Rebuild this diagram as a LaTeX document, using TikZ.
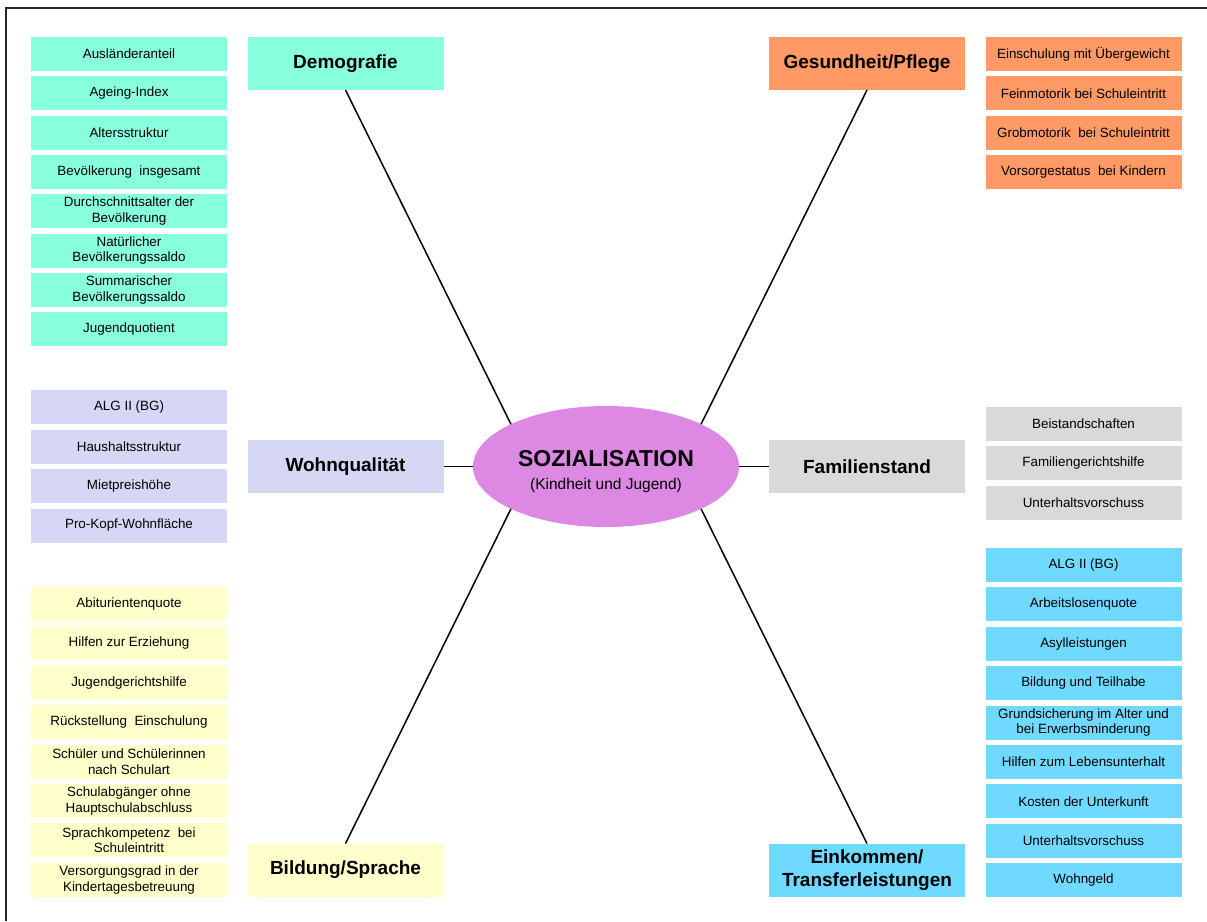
\documentclass[tikz,border=0pt]{standalone}
\usepackage{fontspec}
\setmainfont{Liberation Sans}
\usetikzlibrary{shapes.geometric}
\definecolor{cdemo}{HTML}{88FFDD}
\definecolor{cges}{HTML}{FF9966}
\definecolor{cwohn}{HTML}{D6D6F5}
\definecolor{cfam}{HTML}{D9D9D9}
\definecolor{cein}{HTML}{70D9FF}
\definecolor{cbil}{HTML}{FFFFCC}
\definecolor{cell}{HTML}{DD88E3}
\tikzset{
  item/.style={rectangle, minimum width=196pt, minimum height=34pt, inner sep=1pt, outer sep=0pt, align=center,
    font=\fontsize{13.4}{15.5}\selectfont},
  head/.style={rectangle, minimum width=196pt, minimum height=53pt, inner sep=1pt, outer sep=0pt, align=center,
    font=\fontsize{19}{23}\selectfont\bfseries},
  conn/.style={line width=1.5pt, black},
}
\begin{document}
\begin{tikzpicture}[x=1pt,y=-1pt]
\useasboundingbox (0,0) rectangle (1207,921);
\draw[line width=1.3pt, black!85] (6,921) -- (6,8) -- (1207,8);

% Demografie
\node[head, fill=cdemo] (demo) at (345.5,63.5) {Demografie};
\foreach \t [count=\i from 0] in {Ausländeranteil, Ageing-Index, Altersstruktur, Bevölkerung\ \ insgesamt,
  {Durchschnittsalter der\\Bevölkerung}, {Natürlicher\\Bevölkerungssaldo}, {Summarischer\\Bevölkerungssaldo}, Jugendquotient}
  \node[item, fill=cdemo] (d\i) at (129,54+39.3*\i) {\t};

% Gesundheit
\node[head, fill=cges] (ges) at (867,63.5) {Gesundheit/Pflege};
\foreach \t [count=\i from 0] in {Einschulung mit Übergewicht, Feinmotorik bei Schuleintritt,
  Grobmotorik\ \ bei Schuleintritt, Vorsorgestatus\ \ bei Kindern}
  \node[item, fill=cges] (g\i) at (1083.5,54+39.3*\i) {\t};

% Wohnqualitaet
\node[head, fill=cwohn] (wohn) at (345.5,466.5) {Wohnqualität};
\foreach \t [count=\i from 0] in {ALG II (BG), Haushaltsstruktur, Mietpreishöhe, Pro-Kopf-Wohnfläche}
  \node[item, fill=cwohn] (w\i) at (129,407+39.5*\i) {\t};

% Familienstand
\node[head, fill=cfam] (fam) at (867,466.5) {Familienstand};
\foreach \t [count=\i from 0] in {Beistandschaften, Familiengerichtshilfe, Unterhaltsvorschuss}
  \node[item, fill=cfam] (f\i) at (1083.5,424+39.3*\i) {\t};

% Bildung
\node[head, fill=cbil] (bil) at (345.5,870) {Bildung/Sprache};
\foreach \t [count=\i from 0] in {Abiturientenquote, Hilfen zur Erziehung, Jugendgerichtshilfe,
  Rückstellung\ \ Einschulung, {Schüler und Schülerinnen\\nach Schulart}, {Schulabgänger ohne\\Hauptschulabschluss},
  {Sprachkompetenz\ \ bei\\Schuleintritt}, {Versorgungsgrad in der\\Kindertagesbetreuung}}
  \node[item, fill=cbil] (b\i) at (129,604+39.4*\i) {\t};

% Einkommen
\node[head, fill=cein] (ein) at (867,870) {Einkommen/\\Transferleistungen};
\foreach \t [count=\i from 0] in {ALG II (BG), Arbeitslosenquote, Asylleistungen, Bildung und Teilhabe,
  {Grundsicherung im Alter und\\bei Erwerbsminderung}, Hilfen zum Lebensunterhalt, Kosten der Unterkunft,
  Unterhaltsvorschuss, Wohngeld}
  \node[item, fill=cein] (e\i) at (1083.5,565+39.4*\i) {\t};

% Centre
\node[ellipse, fill=cell, minimum width=266pt, minimum height=121pt, inner sep=0pt, outer sep=0pt, align=center,
  font=\fontsize{15.5}{18}\selectfont] (soz) at (606,466.5)
  {\rule{0pt}{26pt}{\fontsize{23}{26}\selectfont\bfseries SOZIALISATION}\\[5pt](Kindheit und Jugend)};

\draw[conn] (demo.south) -- (soz.156);
\draw[conn] (ges.south) -- (soz.24);
\draw[conn] (bil.north) -- (soz.204);
\draw[conn] (ein.north) -- (soz.336);
\draw[conn] (wohn.east) -- (soz.west);
\draw[conn] (fam.west) -- (soz.east);
\end{tikzpicture}
\end{document}
